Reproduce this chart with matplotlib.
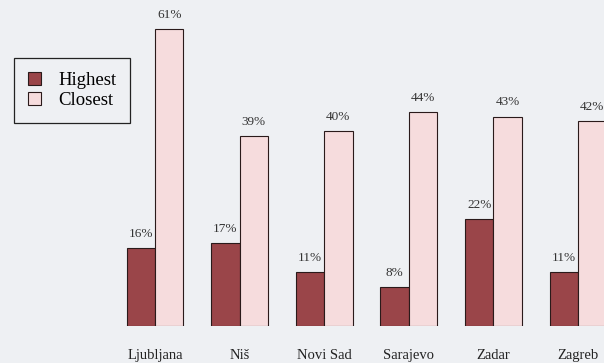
import numpy as np
import matplotlib
matplotlib.use("Agg")
import matplotlib.pyplot as plt

cities = ["Ljubljana", "Niš", "Novi Sad", "Sarajevo", "Zadar", "Zagreb"]
highest = [16, 17, 11, 8, 22, 11]
closest = [61, 39, 40, 44, 43, 42]

bg = "#eef0f3"
dark = "#9a4549"
light = "#f6dcdd"

plt.rcParams["font.family"] = ["Liberation Serif", "DejaVu Serif"]

fig = plt.figure(figsize=(6.04, 3.63), dpi=100, facecolor=bg)
ax = fig.add_axes([0, 37 / 363, 1, 326 / 363], facecolor=bg)

x = np.arange(len(cities))
w = 0.335
b1 = ax.bar(x - w / 2, highest, w, color=dark, edgecolor="#2a1a1a", linewidth=0.8, label="Highest")
b2 = ax.bar(x + w / 2, closest, w, color=light, edgecolor="#2a1a1a", linewidth=0.8, label="Closest")

for bars, vals in [(b1, highest), (b2, closest)]:
    for r, v in zip(bars, vals):
        ax.text(r.get_x() + r.get_width() / 2, v + 2.9, f"{v}%", ha="center", va="center",
                fontsize=9.5, color="#333333")

# category names under the groups
for xi, name in zip(x, cities):
    ax.annotate(name, xy=(xi, 0), xycoords=("data", "axes fraction"),
                xytext=(0, -21.5), textcoords="offset points",
                ha="center", va="center", fontsize=10.5, color="#222222",
                annotation_clip=False)

ax.set_xlim(-155 / 84.6, (604 - 155) / 84.6)
ax.set_ylim(0, 326 / 4.87)
ax.set_xticks([])
ax.set_yticks([])
for s in ax.spines.values():
    s.set_visible(False)

leg = ax.legend(loc="upper left", bbox_to_anchor=(14 / 604, 1 - 58 / 326), fontsize=13.5,
                frameon=True, fancybox=False, edgecolor="#222222", facecolor=bg,
                handlelength=0.7, handleheight=0.7, borderpad=0.75, labelspacing=0.15,
                handletextpad=0.9, borderaxespad=0)
leg.get_frame().set_linewidth(0.9)
leg.get_frame().set_alpha(1)

fig.savefig("out.png", dpi=100, facecolor=bg)
